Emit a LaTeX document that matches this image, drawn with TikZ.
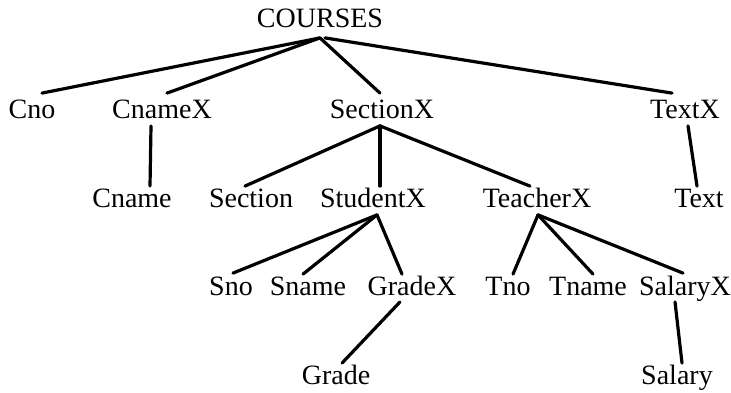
\documentclass[tikz,border=0pt]{standalone}
\usepackage{fontspec}
\setmainfont{Liberation Serif}

\tikzset{
    label/.style={inner sep=0pt, text height=9.5pt, text depth=0pt, font=\fontsize{14}{16}\selectfont},
    branch/.style={line width=1.6pt, line cap=round},
}

\begin{document}
\begin{tikzpicture}[x=0.5pt, y=-0.5pt]
        \useasboundingbox (0,0) rectangle (731,392);

        % root
        \node[label] (courses) at (320,18) {COURSES};

        % first level
        \node[label] (cno) at (32,109) {Cno};
        \node[label] (cnamex) at (162,109) {CnameX};
        \node[label] (sectionx) at (382,109) {SectionX};
        \node[label] (textx) at (685,109) {TextX};

        % second level
        \node[label] (cname) at (132,198) {Cname};
        \node[label] (section) at (251,198) {Section};
        \node[label] (studentx) at (373,198) {StudentX};
        \node[label] (teacherx) at (537,198) {TeacherX};
        \node[label] (text) at (699,198) {Text};

        % third level
        \node[label] (sno) at (231,286) {Sno};
        \node[label] (sname) at (308,286) {Sname};
        \node[label] (gradex) at (412,286) {GradeX};
        \node[label] (tno) at (508,286) {Tno};
        \node[label] (tname) at (588,286) {Tname};
        \node[label] (salaryx) at (685,286) {SalaryX};

        % fourth level
        \node[label] (grade) at (336,375) {Grade};
        \node[label] (salary) at (677,375) {Salary};

        % courses
        \coordinate (cj) at ([yshift=-5pt]courses.south);
        \draw[branch] (cj) -- ([xshift=5pt,yshift=3pt]cno.north);
        \draw[branch] (cj) -- ([xshift=2.5pt,yshift=3pt]cnamex.north);
        \draw[branch] (cj) -- ([xshift=-1pt,yshift=3pt]sectionx.north);
        \draw[branch] ([xshift=2.5pt]cj) -- ([xshift=-6.5pt,yshift=3pt]textx.north);

        % cnamex, textx
        \draw[branch] ([xshift=-5.5pt,yshift=-3.5pt]cnamex.south) -- ([xshift=9pt,yshift=1pt]cname.north);
        \draw[branch] ([xshift=1.5pt,yshift=-3.5pt]textx.south) -- ([xshift=-1pt,yshift=1pt]text.north);

        % sectionx
        \coordinate (sj) at ([xshift=-1pt,yshift=-3.5pt]sectionx.south);
        \draw[branch] (sj) -- ([xshift=-3pt,yshift=1pt]section.north);
        \draw[branch] (sj) -- ([xshift=3.5pt,yshift=1pt]studentx.north);
        \draw[branch] (sj) -- ([xshift=-3.5pt,yshift=1pt]teacherx.north);

        % studentx
        \coordinate (stj) at ([xshift=2pt,yshift=-3.5pt]studentx.south);
        \draw[branch] (stj) -- ([xshift=1pt,yshift=1.5pt]sno.north);
        \draw[branch] (stj) -- ([xshift=-2.5pt,yshift=1pt]sname.north);
        \draw[branch] (stj) -- ([xshift=-5pt,yshift=1pt]gradex.north);

        % teacherx
        \coordinate (tj) at ([xshift=0.5pt,yshift=-3.5pt]teacherx.south);
        \draw[branch] (tj) -- ([xshift=2.5pt,yshift=1pt]tno.north);
        \draw[branch] (tj) -- ([xshift=2.5pt,yshift=1pt]tname.north);
        \draw[branch] (tj) -- ([xshift=-1pt,yshift=1.5pt]salaryx.north);

        % gradex, salaryx
        \draw[branch] ([xshift=-6pt,yshift=-3pt]gradex.south) -- ([xshift=3pt,yshift=1pt]grade.north);
        \draw[branch] ([xshift=-5pt,yshift=-3pt]salaryx.south) -- ([xshift=2.5pt,yshift=1pt]salary.north);
\end{tikzpicture}
\end{document}
